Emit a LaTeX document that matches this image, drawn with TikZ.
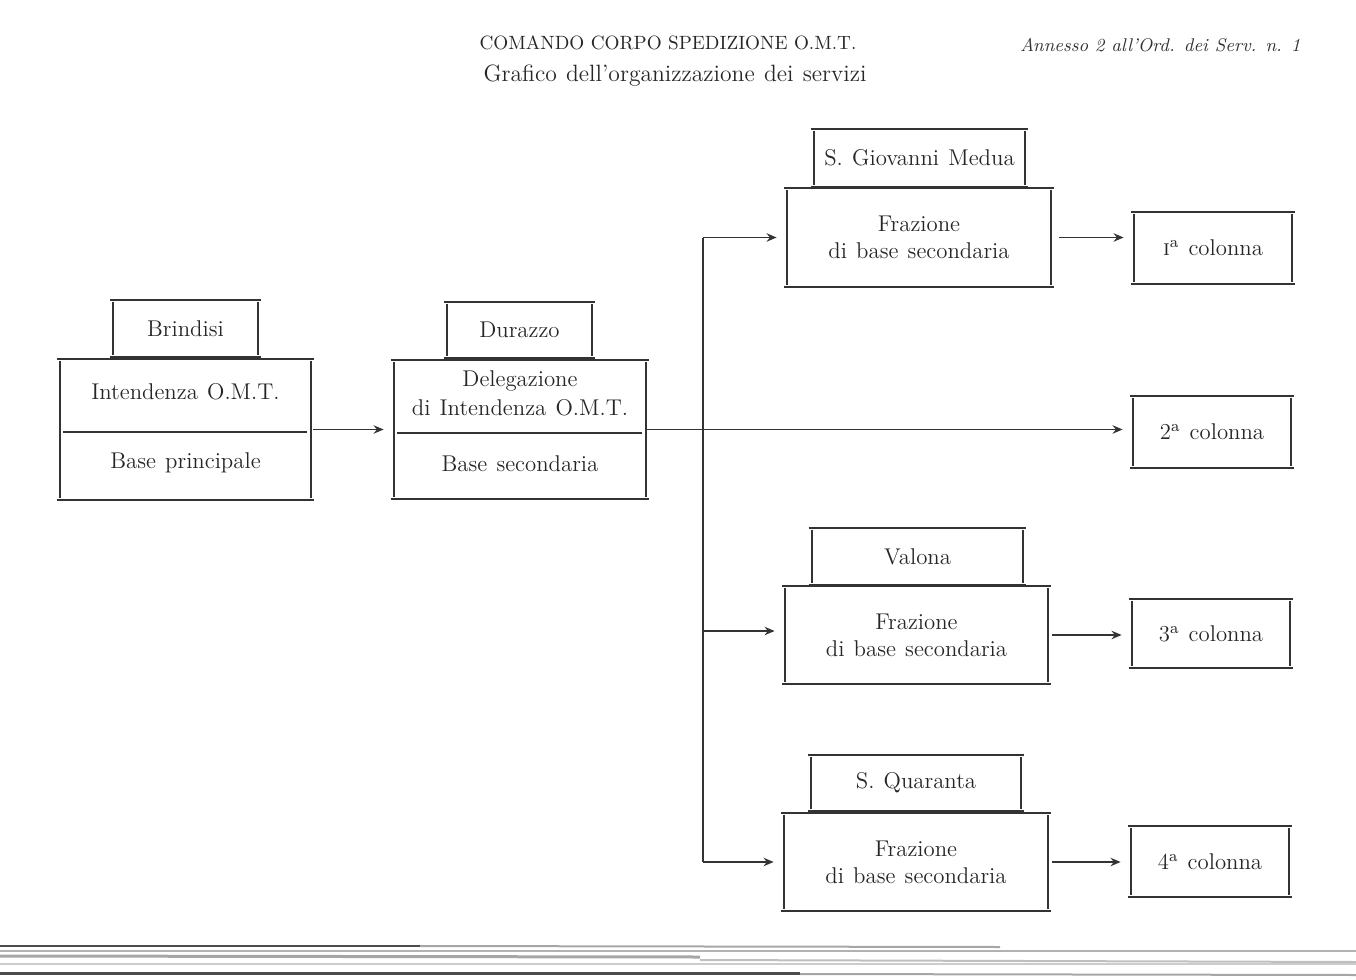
\documentclass[tikz,border=0pt]{standalone}
\usetikzlibrary{arrows.meta,calc}
\definecolor{ink}{HTML}{333333}
\newcommand\widesp{\spaceskip=4.6pt plus 1pt minus 0.5pt\relax}
\tikzset{
  ln/.style={draw=ink, line width=1pt},
  conn/.style={draw=ink, line width=0.8pt},
  arr/.style={conn, -{Stealth[length=5pt,width=4.2pt]}, shorten >=5pt},
  txt/.style={inner sep=0pt, font=\fontsize{11.4}{13.4}\selectfont\widesp, text=black!85, align=center},
  scan/.style={line width=1pt}
}
% #1 name, #2 cx, #3 cy, #4 width px, #5 height px, #6 text
\newcommand\obox[6]{%
  \node[txt, minimum width=#4*0.5pt, minimum height=#5*0.5pt] (#1) at (#2,#3) {#6};
  \draw[ln] ([xshift=-1.5pt]#1.north west) -- ([xshift=1.5pt]#1.north east);
  \draw[ln] ([xshift=-1.5pt]#1.south west) -- ([xshift=1.5pt]#1.south east);
  \draw[ln] ([yshift=-1pt]#1.north west) -- ([yshift=1pt]#1.south west);
  \draw[ln] ([yshift=-1pt]#1.north east) -- ([yshift=1pt]#1.south east);
}
\begin{document}
\begin{tikzpicture}[x=0.5pt,y=-0.5pt]
\useasboundingbox (0,0) rectangle (1356,980);

% header
\node[inner sep=0pt, font=\fontsize{9.6}{11}\selectfont, text=black!85] (hdr1) at (668,43) {COMANDO CORPO SPEDIZIONE O.M.T.};
\node[inner sep=0pt, font=\fontsize{11.8}{13}\selectfont\widesp, text=black!85] (hdr2) at (675,76) {Grafico dell’organizzazione dei servizi};
\node[inner sep=0pt, anchor=east, font=\fontsize{9.2}{11}\selectfont\itshape, text=black!80] (ann) at (1301,45) {Annesso 2 all’Ord. dei Serv. n. 1};

% Brindisi
\obox{brl}{185.5}{328.5}{145}{57}{Brindisi}
\obox{brm}{185.5}{429.5}{251}{141}{}
\draw[ln] (63,432) -- (307,432);
\node[txt] (brt1) at (185.5,392) {Intendenza O.M.T.};
\node[txt] (brt2) at (185.5,463) {Base principale};

% Durazzo
\obox{dul}{519.5}{330}{145}{56}{Durazzo}
\obox{dum}{520}{429.5}{252}{139}{}
\draw[ln] (397,433) -- (642,433);
\node[txt] (dut1) at (520,381) {Delegazione};
\node[txt] (dut2) at (520,408) {di Intendenza O.M.T.};
\node[txt] (dut3) at (520,464) {Base secondaria};

% S. Giovanni Medua
\obox{gml}{919.5}{158}{211}{58}{S. Giovanni Medua}
\obox{fr1}{919}{237.5}{264}{99}{Frazione\\di base secondaria}
\obox{c1}{1213}{248}{158}{72}{\textsc{i}\textsuperscript{a}\ colonna}

% 2a colonna
\obox{c2}{1212}{432}{158}{72}{2\textsuperscript{a}\ colonna}

% Valona
\obox{val}{917.5}{556.5}{211}{57}{Valona}
\obox{fr3}{916.5}{635}{263}{98}{Frazione\\di base secondaria}
\obox{c3}{1211}{633.5}{158}{69}{3\textsuperscript{a}\ colonna}

% S. Quaranta
\obox{sql}{916}{783}{210}{56}{S. Quaranta}
\obox{fr4}{916}{862}{264}{98}{Frazione\\di base secondaria}
\obox{c4}{1210}{861.5}{158}{71}{4\textsuperscript{a}\ colonna}

% connectors
\coordinate (jn) at (703,429.5);
\coordinate (vt) at (703,237.5);
\coordinate (vb) at (703,862);
\draw[arr, shorten <=1pt] (brm.east) -- (brm.east -| dum.west);
\draw[conn] (dum.east) -- (jn);
\draw[conn] (vt) -- (vb);
\draw[arr] (vt) -- (fr1.west);
\draw[arr] (jn) -- (jn -| c2.west);
\draw[arr] (703,631) -- (703,631 -| fr3.west);
\draw[arr] (vb) -- (fr4.west);
\draw[arr, shorten <=4pt] (fr1.east) -- (fr1.east -| c1.west);
\draw[arr, shorten <=2pt] (fr3.east) -- (fr3.east -| c3.west);
\draw[arr, shorten <=2pt] (fr4.east) -- (fr4.east -| c4.west);

% scan artefacts at the foot of the page
\draw[scan, black!70] (0,946) -- (420,946);
\draw[scan, black!35] (420,946) -- (1000,947);
\draw[scan, black!30] (0,951) -- (1356,951);
\draw[scan, black!35, line width=1.5pt] (0,956) -- (700,957);
\draw[scan, black!25] (700,960) -- (1356,962);
\draw[scan, black!20] (0,964) -- (1356,964);
\draw[scan, black!70, line width=1.5pt] (0,973) -- (800,973);
\draw[scan, black!35] (800,974) -- (1356,975);
\end{tikzpicture}
\end{document}
